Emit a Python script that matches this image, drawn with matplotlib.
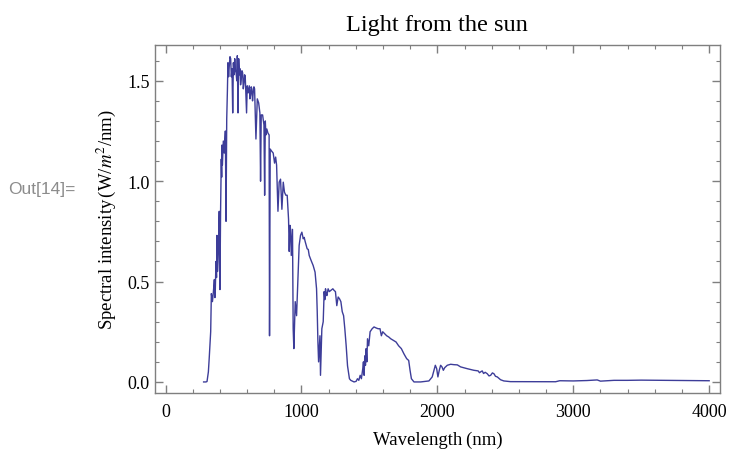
import numpy as np
import matplotlib.pyplot as plt
from matplotlib.ticker import MultipleLocator

plt.rcParams['font.family'] = ['Liberation Serif', 'DejaVu Serif']
plt.rcParams['mathtext.fontset'] = 'stix'

# spectrum (nm, W/m^2/nm)
wavelength = [280, 297, 305, 315, 321, 332, 337, 345, 352, 359, 363, 366, 371, 375, 378, 382, 386,
              390, 395, 400, 405, 410, 413, 415, 418, 420, 425, 432, 440, 445, 450, 455, 459, 464,
              469, 474, 479, 484, 489, 494, 499, 504, 509, 514, 519, 524, 528, 533, 538, 543, 548,
              552, 557, 562, 567, 572, 577, 581, 586, 596, 601, 608, 616, 621, 626, 630, 635, 640,
              645, 650, 655, 665, 675, 685, 694, 699, 704, 714, 724, 729, 734, 738, 745, 753, 762,
              765, 770, 780, 792, 802, 810, 817, 827, 836, 846, 856, 866, 875, 885, 895, 905, 910,
              915, 920, 925, 930, 934, 939, 944, 954, 964, 973, 983, 993, 1003, 1013, 1020, 1027,
              1042, 1050, 1057, 1071, 1086, 1100, 1111, 1116, 1121, 1126, 1136, 1140, 1150, 1160,
              1167, 1172, 1177, 1182, 1187, 1196, 1205, 1216, 1231, 1240, 1250, 1260, 1270, 1280,
              1290, 1300, 1310, 1319, 1329, 1339, 1353, 1363, 1387, 1402, 1412, 1422, 1432, 1441,
              1451, 1456, 1461, 1466, 1471, 1476, 1481, 1486, 1495, 1505, 1520, 1534, 1549, 1564,
              1578, 1588, 1598, 1613, 1627, 1642, 1657, 1676, 1696, 1715, 1735, 1754, 1774, 1789,
              1799, 1809, 1828, 1877, 1938, 1962, 1975, 1985, 1995, 2004, 2014, 2024, 2034, 2044,
              2054, 2073, 2098, 2122, 2147, 2171, 2220, 2269, 2300, 2310, 2318, 2330, 2340, 2352,
              2367, 2380, 2392, 2405, 2416, 2428, 2441, 2465, 2489, 2538, 2870, 2900, 3000, 3100,
              3176, 3200, 3300, 3400, 3500, 3700, 3900, 4000]
intensity = [0.0, 0.0, 0.002, 0.05, 0.116, 0.25, 0.44, 0.40, 0.45, 0.51, 0.42, 0.46, 0.60, 0.52,
             0.73, 0.55, 0.60, 0.70, 0.85, 0.46, 0.86, 1.11, 1.02, 1.18, 1.08, 1.11, 1.20, 1.14,
             1.25, 0.80, 1.31, 1.45, 1.59, 1.52, 1.575, 1.62, 1.61, 1.52, 1.56, 1.34, 1.59, 1.53,
             1.61, 1.55, 1.54, 1.50, 1.625, 1.34, 1.61, 1.53, 1.56, 1.48, 1.51, 1.55, 1.54, 1.46,
             1.49, 1.53, 1.525, 1.34, 1.475, 1.44, 1.475, 1.41, 1.43, 1.47, 1.46, 1.40, 1.44, 1.47,
             1.46, 1.21, 1.41, 1.39, 1.34, 1.0, 1.33, 1.33, 1.28, 0.93, 1.30, 1.23, 1.26, 1.24,
             1.23, 0.23, 1.16, 1.15, 1.14, 1.09, 1.12, 1.08, 0.85, 0.995, 1.01, 0.86, 0.995, 0.945,
             0.93, 0.93, 0.81, 0.65, 0.78, 0.76, 0.63, 0.70, 0.76, 0.265, 0.166, 0.40, 0.33, 0.50,
             0.68, 0.73, 0.746, 0.713, 0.72, 0.70, 0.663, 0.66, 0.63, 0.605, 0.58, 0.547, 0.464,
             0.35, 0.20, 0.10, 0.23, 0.033, 0.265, 0.30, 0.45, 0.41, 0.464, 0.44, 0.43, 0.464,
             0.45, 0.456, 0.464, 0.456, 0.45, 0.38, 0.423, 0.414, 0.40, 0.35, 0.33, 0.265, 0.18,
             0.08, 0.016, 0.008, 0.0, 0.003, 0.016, 0.008, 0.033, 0.016, 0.066, 0.10, 0.033, 0.13,
             0.083, 0.166, 0.10, 0.215, 0.18, 0.25, 0.265, 0.274, 0.269, 0.265, 0.265, 0.23, 0.25,
             0.24, 0.23, 0.224, 0.215, 0.207, 0.199, 0.18, 0.166, 0.14, 0.116, 0.107, 0.058,
             0.016, 0.0, 0.0, 0.005, 0.025, 0.058, 0.083, 0.066, 0.025, 0.058, 0.083, 0.075,
             0.058, 0.071, 0.083, 0.088, 0.086, 0.085, 0.075, 0.066, 0.058, 0.055, 0.046, 0.05,
             0.055, 0.042, 0.048, 0.041, 0.030, 0.033, 0.045, 0.041, 0.028, 0.025, 0.011, 0.005,
             0.0015, 0.001, 0.006, 0.005, 0.007, 0.01, 0.004, 0.008, 0.008, 0.009, 0.008, 0.007,
             0.006]

fig = plt.figure(figsize=(7.29, 4.56), dpi=100)
ax = fig.add_axes([0.2122, 0.136, 0.7755, 0.763])

ax.plot(wavelength, intensity, color=(0.24, 0.24, 0.6), linewidth=1.0)

ax.set_xlim(-80, 4080)
ax.set_ylim(-0.055, 1.678)

frame_col = '#7f7f7f'
for s in ax.spines.values():
    s.set_color(frame_col)
    s.set_linewidth(1.0)

ax.xaxis.set_major_locator(MultipleLocator(1000))
ax.xaxis.set_minor_locator(MultipleLocator(200))
ax.yaxis.set_major_locator(MultipleLocator(0.5))
ax.yaxis.set_minor_locator(MultipleLocator(0.1))
ax.yaxis.set_major_formatter(plt.FuncFormatter(lambda v, p: f'{v:.1f}'))
ax.tick_params(which='both', direction='in', top=True, right=True, color=frame_col,
               labelsize=13, labelcolor='black')
ax.tick_params(which='major', length=5.5, width=1)
ax.tick_params(which='minor', length=3.2, width=0.8)
ax.tick_params(axis='x', pad=7)

ax.set_title('Light from the sun', fontsize=17.5, pad=11)
ax.set_xlabel('Wavelength\u2009(nm)', fontsize=13.5, labelpad=8)
ax.set_ylabel(r'Spectral intensity$\,$(W/$m^2$/nm)', fontsize=13.5, labelpad=7)

fig.text(0.011, 0.585, 'Out[14]=', fontsize=12.5, color='#8c8c8c',
         family=['Liberation Sans', 'DejaVu Sans'], va='center')

fig.savefig('out.png', dpi=100)
